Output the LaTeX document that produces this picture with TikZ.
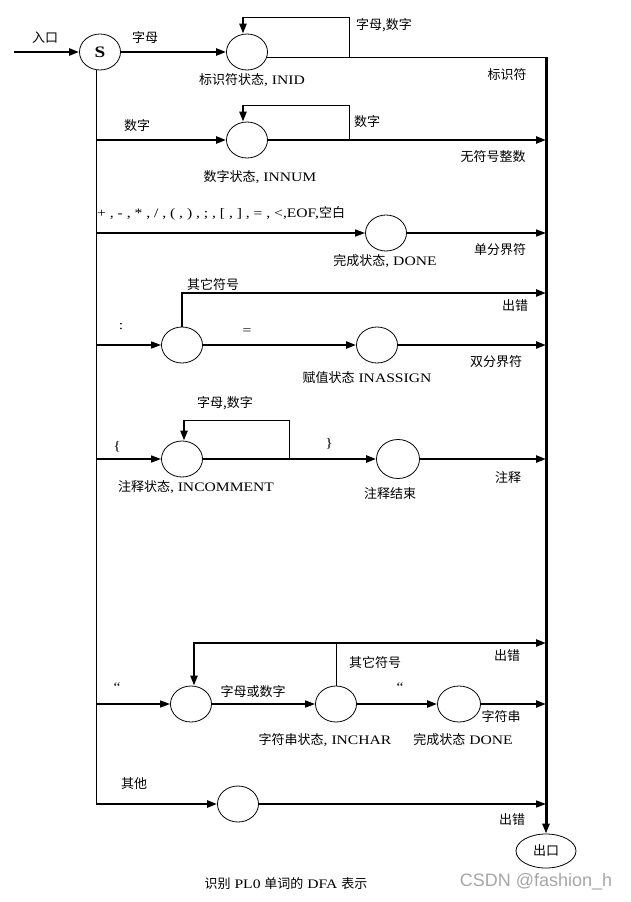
\documentclass[tikz,border=0pt]{standalone}
\usepackage{fontspec}
\setmainfont{Liberation Serif}[FakeStretch=1.2]
\newfontfamily\cjk{Noto Sans CJK SC}
\newfontfamily\wmfont{Liberation Sans}
\usetikzlibrary{arrows.meta,shapes.geometric,calc}
\newcommand\zh[1]{{\cjk #1}}
\begin{document}
\begin{tikzpicture}[x=1pt,y=-1pt,
  state/.style={ellipse,draw,line width=0.8pt,minimum width=41pt,minimum height=36pt,inner sep=0pt},
  thk/.style={line width=2.4pt},
  med/.style={line width=1.5pt},
  thn/.style={line width=0.9pt},
  arr/.style={-{Triangle[length=10pt,width=7pt]}},
  lbl/.style={font=\fontsize{13}{15}\selectfont,inner sep=0pt},
]
\useasboundingbox (0,0) rectangle (630,902);
% states
\node[state,font=\bfseries\fontsize{16}{16}\selectfont] (S) at (100,52) {S};
\node[state] (inid) at (247,52) {};
\node[state] (innum) at (247,140) {};
\node[state] (done1) at (386,233) {};
\node[state] (colon) at (182,345) {};
\node[state] (assign) at (377,345) {};
\node[state] (comm) at (182,459) {};
\node[state,minimum width=43pt,minimum height=39pt] (cend) at (398,459) {};
\node[state] (str) at (191,704) {};
\node[state] (inchar) at (336,704) {};
\node[state,minimum width=43pt] (sdone) at (459,704) {};
\node[state] (other) at (238,804) {};
\node[ellipse,draw,line width=0.8pt,minimum width=60pt,minimum height=34pt,inner sep=0pt,font=\fontsize{13}{15}\selectfont] (exit) at (546,851) {\zh{出口}};
% coordinates
\coordinate (in0) at (14,52);
\coordinate (bar) at (546,0);
\coordinate (L0) at (96,69.5);
\coordinate (idl) at (243,17);
\coordinate (idr) at (349,17);
\coordinate (nl) at (243,105);
\coordinate (nr) at (349,105);
\coordinate (err1) at (182,293);
\coordinate (cl) at (184,420);
\coordinate (cr) at (289,420);
\coordinate (sl) at (194,643);
% bus and bar
\draw[thn] (L0) -- (L0 |- other);
\draw[line width=3pt,arr] (inid.-15 -| bar) -- (exit.north);
% entry
\draw[thk,arr] (in0) -- (S);
\draw[thk,arr] (S) -- (inid);
% INID
\draw[thn] (inid.-15) -- (inid.-15 -| bar);
\draw[thn] (idl) -- (idr) -- (idr |- inid.-15);
\draw[thk,arr] (idl) -- (idl |- inid.north);
% INNUM
\draw[thk,arr] (L0 |- innum) -- (innum);
\draw[thn] (nl) -- (nr) -- (nr |- innum);
\draw[thk,arr] (nl) -- (nl |- innum.north);
\draw[thk,arr] (innum) -- (innum -| bar);
% DONE
\draw[med,arr] (L0 |- done1) -- (done1);
\draw[med,arr] (done1) -- (done1 -| bar);
% colon / assign
\draw[med,arr] (L0 |- colon) -- (colon);
\draw[thk,arr] (colon.north) -- (err1) -- (err1 -| bar);
\draw[thk,arr] (colon) -- (assign);
\draw[thk,arr] (assign) -- (assign -| bar);
% comment
\draw[med,arr] (L0 |- comm) -- (comm);
\draw[thn] (cl) -- (cr) -- (cr |- comm);
\draw[thk,arr] (cl) -- (cl |- comm.north);
\draw[thk,arr] (comm) -- (cend);
\draw[thk,arr] (cend) -- (cend -| bar);
% string
\draw[med,arr] (L0 |- str) -- (str);
\draw[thk,arr,line cap=rect] (sl) -- (sl -| bar);
\draw[thk,arr] (sl) -- (sl |- str.north);
\draw[thn] (inchar.north) -- (inchar.north |- sl);
\draw[med,arr] (str) -- (inchar);
\draw[thk,arr] (inchar) -- (sdone);
\draw[thk,arr] (sdone) -- (sdone -| bar);
% other
\draw[thk,arr] (L0 |- other) -- (other);
\draw[med,arr] (other) -- (other -| bar);
% labels
\node[lbl] (t01) at (45,38) {\zh{入口}};
\node[lbl] (t02) at (145,38) {\zh{字母}};
\node[lbl] (t03) at (384,25) {\zh{字母,数字}};
\node[lbl] (t04) at (252,80) {\zh{标识符状态}, INID};
\node[lbl] (t05) at (507,75) {\zh{标识符}};
\node[lbl] (t06) at (137,126) {\zh{数字}};
\node[lbl] (t07) at (367,122) {\zh{数字}};
\node[lbl] (t08) at (493,157) {\zh{无符号整数}};
\node[lbl] (t09) at (260,177) {\zh{数字状态}, INNUM};
\node[lbl,anchor=west] (t10) at (97,213) {+ , - , * , / , ( , ) , ; , [ , ] , = , <,EOF,\zh{空白}};
\node[lbl] (t11) at (500,250) {\zh{单分界符}};
\node[lbl] (t12) at (385,261) {\zh{完成状态}, DONE};
\node[lbl] (t13) at (213,285) {\zh{其它符号}};
\node[lbl] (t14) at (515,306) {\zh{出错}};
\node[lbl] (t15) at (121,327) {:};
\node[lbl] (t16) at (247,332) {=};
\node[lbl] (t17) at (496,362) {\zh{双分界符}};
\node[lbl] (t18) at (367,378) {\zh{赋值状态} INASSIGN};
\node[lbl] (t19) at (225,403) {\zh{字母,数字}};
\node[lbl] (t20) at (117,447) {\{};
\node[lbl] (t21) at (329,444) {\}};
\node[lbl] (t22) at (508,478) {\zh{注释}};
\node[lbl] (t23) at (196,487) {\zh{注释状态}, INCOMMENT};
\node[lbl] (t24) at (390,494) {\zh{注释结束}};
\node[lbl] (t25) at (117,687) {“};
\node[lbl] (t26) at (375,663) {\zh{其它符号}};
\node[lbl] (t27) at (507,656) {\zh{出错}};
\node[lbl] (t28) at (253,692) {\zh{字母或数字}};
\node[lbl] (t29) at (400,687) {“};
\node[lbl] (t30) at (501,717) {\zh{字符串}};
\node[lbl] (t31) at (325,740) {\zh{字符串状态}, INCHAR};
\node[lbl] (t32) at (463,740) {\zh{完成状态} DONE};
\node[lbl] (t33) at (134,784) {\zh{其他}};
\node[lbl] (t34) at (512,820) {\zh{出错}};
\node[lbl] (t35) at (286,884) {\zh{识别} PL0 \zh{单词的} DFA \zh{表示}};
\node[font=\wmfont\fontsize{18}{18}\selectfont,text=gray!70,inner sep=0pt] (t36) at (536,882) {CSDN @fashion\_h};
\end{tikzpicture}
\end{document}
